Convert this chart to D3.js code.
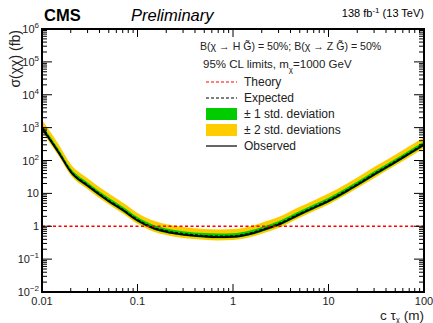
<!DOCTYPE html>
<html>
<head>
<meta charset="utf-8">
<script src="https://cdn.jsdelivr.net/npm/d3@7"></script>
<style>
  body { margin: 0; background: #fff; }
  svg { font-family: "Liberation Sans", Arial, sans-serif; }
</style>
</head>
<body>
<svg id="chart" width="433" height="323"></svg>
<script>
// lifetime points (m)
const ctau = [0.01, 0.015, 0.02, 0.03, 0.05, 0.07, 0.1, 0.15, 0.2, 0.3, 0.5, 0.7, 1, 1.5, 2, 3, 5, 7, 10, 15, 20, 30, 50, 70, 100];
// limits (fb)
const observed = [950, 170, 45, 17, 5.8, 3.1, 1.5, 0.85, 0.68, 0.56, 0.49, 0.47, 0.48, 0.58, 0.75, 1.12, 2.3, 3.6, 5.8, 11, 18, 37, 88, 160, 300];
const expected = [1020, 182, 48, 18.2, 6.2, 3.3, 1.6, 0.91, 0.73, 0.60, 0.52, 0.50, 0.51, 0.62, 0.80, 1.2, 2.46, 3.85, 6.2, 11.8, 19.3, 39.6, 94, 171, 321];
const plus1 = [1210, 216, 57, 21.6, 7.4, 3.9, 1.9, 1.08, 0.86, 0.71, 0.62, 0.60, 0.61, 0.74, 0.95, 1.42, 2.9, 4.6, 7.4, 14, 22.9, 47, 112, 203, 381];
const minus1 = [865, 155, 41, 15.5, 5.3, 2.8, 1.37, 0.77, 0.62, 0.51, 0.45, 0.43, 0.44, 0.53, 0.68, 1.02, 2.1, 3.3, 5.3, 10, 16.4, 33.7, 80, 146, 273];
const plus2 = [1700, 300, 77, 29, 9.9, 5.3, 2.55, 1.45, 1.16, 0.95, 0.83, 0.80, 0.82, 0.99, 1.28, 1.9, 3.9, 6.1, 9.9, 18.7, 30.6, 63, 150, 272, 510];
const minus2 = [750, 134, 35.5, 13.4, 4.6, 2.45, 1.19, 0.67, 0.54, 0.44, 0.39, 0.37, 0.38, 0.46, 0.59, 0.88, 1.82, 2.85, 4.6, 8.7, 14.2, 29, 70, 126, 237];
const theory = 1;

const xTicks = [0.01, 0.1, 1, 10, 100];
const xTickLabels = ["0.01", "0.1", "1", "10", "100"];
const yTicks = [1e6, 1e5, 1e4, 1e3, 1e2, 10, 1, 0.1, 0.01];
const yTickLabels = [["10", "6"], ["10", "5"], ["10", "4"], ["10", "3"], ["10", "2"], ["10", ""], ["1", ""], ["10", "\u22121"], ["10", "\u22122"]];

const margin = {left: 42, right: 9, top: 29, bottom: 31};
const W = 433, H = 323;
const svg = d3.select("#chart");

const x = d3.scaleLog().domain([0.01, 100]).range([margin.left, W - margin.right]);
const y = d3.scaleLog().domain([0.01, 1e6]).range([H - margin.bottom, margin.top]);

const pts = ctau.map((c, i) => ({c: c, obs: observed[i], exp: expected[i], p1: plus1[i], m1: minus1[i], p2: plus2[i], m2: minus2[i]}));

const plot = svg.append("g");
plot.append("clipPath").attr("id", "clip").append("rect")
  .attr("x", margin.left).attr("y", margin.top)
  .attr("width", W - margin.left - margin.right).attr("height", H - margin.top - margin.bottom);
const g = plot.append("g").attr("clip-path", "url(#clip)");

const band = (lo, hi) => d3.area().curve(d3.curveMonotoneX)
  .x(d => x(d.c)).y0(d => y(d[lo])).y1(d => y(d[hi]));
const line = key => d3.line().curve(d3.curveMonotoneX).x(d => x(d.c)).y(d => y(d[key]));

g.append("path").datum(pts).attr("d", band("m2", "p2")).attr("fill", "#ffcc00");
g.append("path").datum(pts).attr("d", band("m1", "p1")).attr("fill", "#00cc00");
g.append("path").datum(pts).attr("d", line("exp")).attr("fill", "none")
  .attr("stroke", "#000").attr("stroke-width", 1.2).attr("stroke-dasharray", "3,2");
g.append("path").datum(pts).attr("d", line("obs")).attr("fill", "none")
  .attr("stroke", "#000").attr("stroke-width", 1.8);

// theory line
g.append("line")
  .attr("x1", x(0.01)).attr("x2", x(100))
  .attr("y1", y(theory)).attr("y2", y(theory))
  .attr("stroke", "#ff0000").attr("stroke-width", 1.6).attr("stroke-dasharray", "3,2.5");

// frame and ticks
const axes = svg.append("g").attr("stroke", "#000");
const x0 = x.range()[0], x1 = x.range()[1], yb = y.range()[0], yt = y.range()[1];

function minorLog(domain) {
  const out = [];
  for (let e = Math.log10(domain[0]); e < Math.log10(domain[1]); e++) {
    for (let k = 2; k <= 9; k++) out.push(k * Math.pow(10, e));
  }
  return out;
}

xTicks.forEach(t => {
  axes.append("line").attr("x1", x(t)).attr("x2", x(t)).attr("y1", yb).attr("y2", yb - 8).attr("stroke-width", 1);
  axes.append("line").attr("x1", x(t)).attr("x2", x(t)).attr("y1", yt).attr("y2", yt + 8).attr("stroke-width", 1);
});
minorLog([0.01, 100]).forEach(t => {
  axes.append("line").attr("x1", x(t)).attr("x2", x(t)).attr("y1", yb).attr("y2", yb - 4).attr("stroke-width", 1);
  axes.append("line").attr("x1", x(t)).attr("x2", x(t)).attr("y1", yt).attr("y2", yt + 4).attr("stroke-width", 1);
});
yTicks.forEach(t => {
  axes.append("line").attr("x1", x0).attr("x2", x0 + 10).attr("y1", y(t)).attr("y2", y(t)).attr("stroke-width", 1);
  axes.append("line").attr("x1", x1).attr("x2", x1 - 10).attr("y1", y(t)).attr("y2", y(t)).attr("stroke-width", 1);
});
minorLog([0.01, 1e6]).forEach(t => {
  axes.append("line").attr("x1", x0).attr("x2", x0 + 5).attr("y1", y(t)).attr("y2", y(t)).attr("stroke-width", 1);
  axes.append("line").attr("x1", x1).attr("x2", x1 - 5).attr("y1", y(t)).attr("y2", y(t)).attr("stroke-width", 1);
});
axes.append("rect").attr("x", x0).attr("y", yt).attr("width", x1 - x0).attr("height", yb - yt)
  .attr("fill", "none").attr("stroke-width", 2);

// tick labels
svg.append("g").selectAll("text").data(xTicks).join("text")
  .attr("x", d => x(d)).attr("y", yb + 12.5)
  .attr("text-anchor", "middle").attr("font-size", 11).attr("fill", "#222")
  .text((d, i) => xTickLabels[i]);

const yl = svg.append("g").selectAll("text").data(yTicks).join("text")
  .attr("x", x0 - 3).attr("y", d => y(d) + 4)
  .attr("text-anchor", "end").attr("font-size", 11).attr("fill", "#222");
yl.append("tspan").text((d, i) => yTickLabels[i][0]);
yl.append("tspan").attr("dy", -5).attr("font-size", 8).text((d, i) => yTickLabels[i][1]);

// axis titles
const yTitle = svg.append("text").attr("transform", "translate(20,30) rotate(-90)")
  .attr("text-anchor", "end").attr("font-size", 14).attr("fill", "#222");
yTitle.append("tspan").text("\u03c3(\u03c7\u03c7) (fb)");

const xTitle = svg.append("text").attr("x", x1).attr("y", 320)
  .attr("text-anchor", "end").attr("font-size", 13.5).attr("fill", "#222");
xTitle.append("tspan").text("c \u03c4");
xTitle.append("tspan").attr("dy", 2).attr("font-size", 8).text("\u03c7");
xTitle.append("tspan").attr("dy", -2).text(" (m)");

// header
svg.append("text").attr("x", 44).attr("y", 21).attr("font-size", 16.5).attr("font-weight", "bold").text("CMS");
svg.append("text").attr("x", 131).attr("y", 21).attr("font-size", 16.5).attr("font-style", "italic").text("Preliminary");
const lumi = svg.append("text").attr("x", x1).attr("y", 17).attr("text-anchor", "end").attr("font-size", 11);
lumi.append("tspan").text("138 fb");
lumi.append("tspan").attr("dy", -4).attr("font-size", 8).text("-1");
lumi.append("tspan").attr("dy", 4).text(" (13 TeV)");

// legend
const leg = svg.append("g").attr("font-size", 12).attr("fill", "#222");
leg.append("text").attr("x", 200).attr("y", 50).attr("font-size", 10.6)
  .text("B(\u03c7 \u2192 H G\u0303) = 50%; B(\u03c7 \u2192 Z G\u0303) = 50%");
const ml = leg.append("text").attr("x", 203).attr("y", 68).attr("font-size", 11.5);
ml.append("tspan").text("95% CL limits, m");
ml.append("tspan").attr("dy", 4).attr("font-size", 8).text("\u03c7");
ml.append("tspan").attr("dy", -4).text("=1000 GeV");

const entries = [
  {label: "Theory", type: "line", color: "#ff0000", dash: "3,2"},
  {label: "Expected", type: "line", color: "#000", dash: "3,2"},
  {label: "\u00b1 1 std. deviation", type: "box", color: "#00cc00"},
  {label: "\u00b1 2 std. deviations", type: "box", color: "#ffcc00"},
  {label: "Observed", type: "line", color: "#000", dash: null}
];
entries.forEach((e, i) => {
  const cy = 82 + i * 16;
  if (e.type === "line") {
    leg.append("line").attr("x1", 206).attr("x2", 237).attr("y1", cy).attr("y2", cy)
      .attr("stroke", e.color).attr("stroke-width", 1.2).attr("stroke-dasharray", e.dash);
  } else {
    leg.append("rect").attr("x", 206).attr("y", cy - 6).attr("width", 31).attr("height", 12).attr("fill", e.color);
  }
  leg.append("text").attr("x", 244).attr("y", cy + 4).text(e.label);
});
</script>
</body>
</html>
